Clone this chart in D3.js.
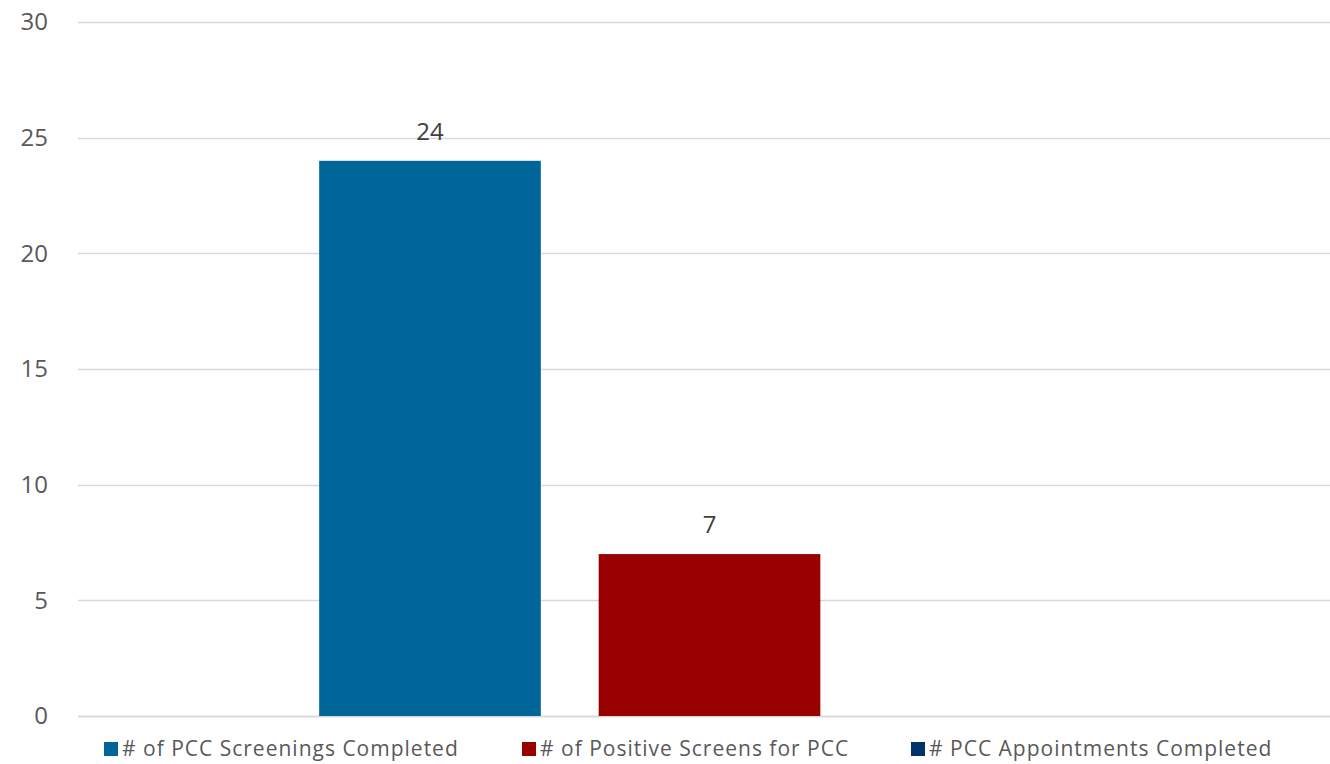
<!DOCTYPE html>
<html>
<head>
<meta charset="utf-8">
<script src="https://cdn.jsdelivr.net/npm/d3@7"></script>
<style>
  html, body { margin: 0; padding: 0; background: #fff; }
  svg text { font-family: "Open Sans", "Noto Sans", sans-serif; }
</style>
</head>
<body>
<svg id="chart" width="1330" height="764"></svg>
<script>
// One category, three series of PCC counts
const categories = [""];
const seriesNames = [
  "# of PCC Screenings Completed",
  "# of Positive Screens for PCC",
  "# PCC Appointments Completed"
];
const seriesValues = [24, 7, null];
const seriesColors = ["#006699", "#990000", "#003366"];
const yTicks = [0, 5, 10, 15, 20, 25, 30];

const svg = d3.select("#chart");
const margin = { left: 78, right: 0, top: 22, bottom: 48 };
const W = 1330, H = 764;
const plotBottom = H - margin.bottom;

const y = d3.scaleLinear().domain([0, 30]).range([plotBottom, margin.top]);

const x0 = d3.scaleBand().domain(categories).range([margin.left, 1341]).padding(0.236);
const x1 = d3.scaleBand().domain(seriesNames).range([0, x0.bandwidth()])
  .paddingInner(0.207).paddingOuter(0);

// gridlines
svg.append("g").selectAll("line").data(yTicks).join("line")
  .attr("x1", margin.left).attr("x2", W)
  .attr("y1", d => Math.round(y(d)) + 0.5).attr("y2", d => Math.round(y(d)) + 0.5)
  .attr("stroke", "#d9d9d9").attr("stroke-width", d => d === 0 ? 2 : 1.3);

// y tick labels
const yAxis = d3.axisLeft(y).tickValues(yTicks).tickSize(0).tickPadding(0);
const ax = svg.append("g").attr("transform", "translate(48,0)").call(yAxis);
ax.select(".domain").remove();
ax.selectAll("text").attr("font-size", 24).attr("fill", "#595959")
  .attr("font-family", "'Open Sans', sans-serif");

// bars
const rows = seriesNames.map((s, i) => ({ name: s, value: seriesValues[i], color: seriesColors[i] }));
const g = svg.append("g");
g.selectAll("rect").data(rows.filter(d => d.value != null)).join("rect")
  .attr("x", d => x0(categories[0]) + x1(d.name))
  .attr("y", d => y(d.value))
  .attr("width", x1.bandwidth())
  .attr("height", d => y(0) - y(d.value))
  .attr("fill", d => d.color);

// value labels
g.selectAll("text").data(rows.filter(d => d.value != null)).join("text")
  .attr("x", d => x0(categories[0]) + x1(d.name) + x1.bandwidth() / 2)
  .attr("y", d => y(d.value) - 21)
  .attr("text-anchor", "middle")
  .attr("font-size", 24).attr("fill", "#404040")
  .text(d => d.value);

// legend
const legendX = [104, 522, 911];
const lg = svg.append("g").selectAll("g").data(rows).join("g")
  .attr("transform", (d, i) => `translate(${legendX[i]},742)`);
lg.append("rect").attr("width", 14).attr("height", 14).attr("fill", d => d.color);
lg.append("text").attr("x", 18).attr("y", 14)
  .attr("font-size", 21).attr("letter-spacing", 1).attr("fill", "#595959")
  .text(d => d.name);
</script>
</body>
</html>
